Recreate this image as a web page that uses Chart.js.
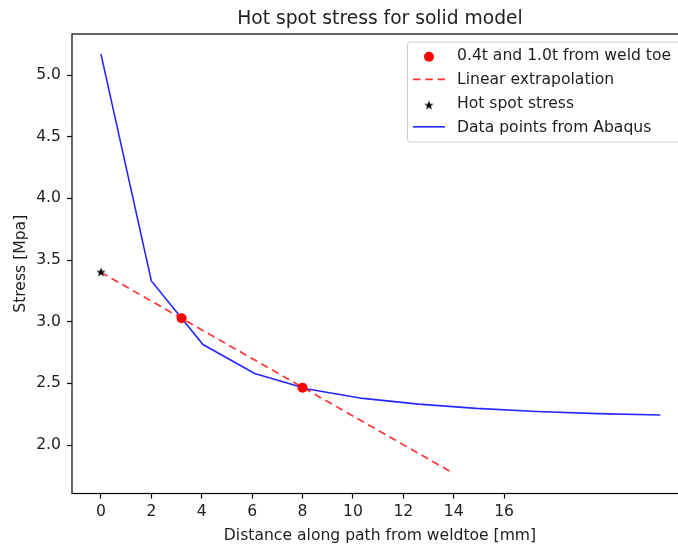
<!DOCTYPE html>
<html>
<head>
<meta charset="utf-8">
<script src="https://cdn.jsdelivr.net/npm/chart.js@4.4.1/dist/chart.umd.min.js"></script>
<style>
  html, body { margin: 0; padding: 0; background: #fff; overflow: hidden; }
  #wrap { position: absolute; left: 0; top: 0; width: 700px; height: 546px; }
</style>
</head>
<body>
<div id="wrap"><canvas id="stressChart"></canvas></div>
<script>
// stress along the path from the weld toe (FE result)
const pathX = [0, 2.0, 4.05, 6.1, 8.2, 10.4, 12.6, 14.9, 17.3, 19.7, 22.2];
const pathStress = [5.17, 3.33, 2.815, 2.58, 2.455, 2.378, 2.332, 2.297, 2.272, 2.255, 2.243];

// read-out points at 0.4t and 1.0t (t = 8 mm)
const readX = [3.2, 8.0];
const readStress = [3.028, 2.464];

// linear extrapolation to the weld toe
const extrapX = [0, 14];
const extrapStress = [3.40, 1.77];
const hotSpotX = [0];
const hotSpotStress = [3.40];

const xTicks = [0, 2, 4, 6, 8, 10, 12, 14, 16];
const yTicks = [2.0, 2.5, 3.0, 3.5, 4.0, 4.5, 5.0];

const FONT = 'DejaVu Sans';
const TEXT = '#1e1e1e';
const BLUE = 'rgba(0, 0, 255, 0.85)';
const RED = 'rgba(255, 0, 0, 0.8)';

const toPoints = (xs, ys) => xs.map((x, i) => ({ x: x, y: ys[i] }));

function makeStar(r)
{
    const c = document.createElement('canvas');
    const size = Math.ceil(r * 2 + 2);
    c.width = size;
    c.height = size;
    const g = c.getContext('2d');
    g.translate(size / 2, size / 2);
    g.beginPath();
    for (let i = 0; i < 10; i++)
    {
        const rad = i % 2 === 0 ? r : r * 0.4;
        const a = -Math.PI / 2 + i * Math.PI / 5;
        g.lineTo(rad * Math.cos(a), rad * Math.sin(a));
    }
    g.closePath();
    g.fillStyle = '#000';
    g.fill();
    return c;
}
const star = makeStar(5);

// frame, titles and legend in matplotlib style
const decorations = {
    id: 'decorations',
    afterDraw(chart)
    {
        const { ctx, chartArea: a } = chart;
        ctx.save();

        ctx.strokeStyle = '#000';
        ctx.lineWidth = 1.2;
        ctx.strokeRect(a.left, a.top, a.right - a.left, a.bottom - a.top);

        const cx = (a.left + a.right) / 2;
        ctx.fillStyle = TEXT;
        ctx.textAlign = 'center';
        ctx.textBaseline = 'alphabetic';
        ctx.font = '18.7px "' + FONT + '"';
        ctx.fillText('Hot spot stress for solid model', cx, 24.3);

        ctx.font = '15.6px "' + FONT + '"';
        ctx.fillText('Distance along path from weldtoe [mm]', cx, 540);

        ctx.save();
        ctx.translate(25, (a.top + a.bottom) / 2);
        ctx.rotate(-Math.PI / 2);
        ctx.fillText('Stress [Mpa]', 0, 0);
        ctx.restore();

        // legend box
        const bx = 407.5, by = 42, bw = 276, bh = 100, br = 3;
        ctx.beginPath();
        ctx.roundRect(bx, by, bw, bh, br);
        ctx.fillStyle = 'rgba(255,255,255,0.8)';
        ctx.fill();
        ctx.strokeStyle = '#cccccc';
        ctx.lineWidth = 1;
        ctx.stroke();

        const baselines = [59.5, 83.5, 107.5, 131.5];
        const handleY = [56.7, 79.3, 105.5, 126.8];
        const hx0 = 413, hx1 = 445, hxc = 429;
        chart.data.datasets.forEach((ds, i) =>
        {
            const y = handleY[i];
            if (ds.showLine)
            {
                ctx.beginPath();
                ctx.setLineDash(ds.borderDash || []);
                ctx.strokeStyle = ds.borderColor;
                ctx.lineWidth = ds.borderWidth;
                ctx.moveTo(hx0, y);
                ctx.lineTo(hx1, y);
                ctx.stroke();
                ctx.setLineDash([]);
            }
            else if (ds.pointStyle === star)
            {
                ctx.drawImage(star, hxc - star.width / 2, y - star.height / 2);
            }
            else
            {
                ctx.beginPath();
                ctx.arc(hxc, y, ds.pointRadius, 0, Math.PI * 2);
                ctx.fillStyle = ds.backgroundColor;
                ctx.fill();
            }
            ctx.fillStyle = TEXT;
            ctx.textAlign = 'left';
            ctx.font = '15.6px "' + FONT + '"';
            ctx.fillText(ds.label, 457, baselines[i]);
        });

        ctx.restore();
    }
};

const tickFont = { family: FONT, size: 15.6 };

new Chart(document.getElementById('stressChart'), {
    type: 'scatter',
    data: {
        datasets: [
            {
                label: '0.4t and 1.0t from weld toe',
                data: toPoints(readX, readStress),
                backgroundColor: 'red',
                borderColor: 'red',
                pointRadius: 5,
                borderWidth: 0,
                showLine: false,
                order: 0
            },
            {
                label: 'Linear extrapolation',
                data: toPoints(extrapX, extrapStress),
                showLine: true,
                borderColor: RED,
                borderWidth: 1.7,
                borderDash: [7.5, 4.8],
                pointRadius: 0,
                order: 2
            },
            {
                label: 'Hot spot stress',
                data: toPoints(hotSpotX, hotSpotStress),
                pointStyle: star,
                showLine: false,
                order: 1
            },
            {
                label: 'Data points from Abaqus',
                data: toPoints(pathX, pathStress),
                showLine: true,
                borderColor: BLUE,
                borderWidth: 1.6,
                pointRadius: 0,
                order: 3
            }
        ]
    },
    options: {
        responsive: true,
        maintainAspectRatio: false,
        animation: false,
        layout: {
            padding: { left: 0, right: 12, top: 34, bottom: 0 }
        },
        plugins: {
            legend: { display: false },
            title: { display: false },
            tooltip: { enabled: false }
        },
        scales: {
            x: {
                type: 'linear',
                min: -1.15,
                max: 23.3,
                afterBuildTicks: (s) => { s.ticks = xTicks.map(v => ({ value: v })); },
                afterFit: (s) => { s.height = 52.5; },
                border: { display: false },
                grid: {
                    drawOnChartArea: false,
                    drawTicks: true,
                    tickLength: 5,
                    tickColor: '#000',
                    tickWidth: 1.2
                },
                ticks: {
                    autoSkip: false,
                    maxRotation: 0,
                    minRotation: 0,
                    padding: 4,
                    color: TEXT,
                    font: tickFont,
                    callback: (v) => String(v)
                }
            },
            y: {
                type: 'linear',
                min: 1.607,
                max: 5.333,
                afterBuildTicks: (s) => { s.ticks = yTicks.map(v => ({ value: v })); },
                afterFit: (s) => { s.width = 72; },
                border: { display: false },
                grid: {
                    drawOnChartArea: false,
                    drawTicks: true,
                    tickLength: 5,
                    tickColor: '#000',
                    tickWidth: 1.2
                },
                ticks: {
                    autoSkip: false,
                    padding: 6,
                    color: TEXT,
                    font: tickFont,
                    callback: (v) => Number(v).toFixed(1)
                }
            }
        }
    },
    plugins: [decorations]
});
</script>
</body>
</html>
